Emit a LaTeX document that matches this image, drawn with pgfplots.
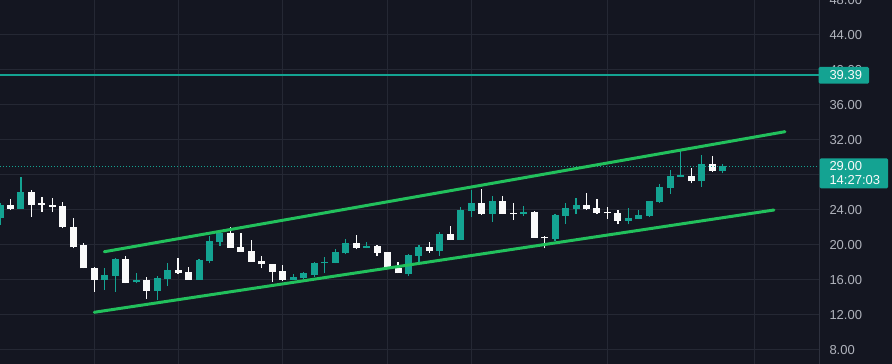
\documentclass[border=0pt]{standalone}
\usepackage{fontspec}
\setmainfont{Liberation Sans}
\usepackage{pgfplots}
\pgfplotsset{compat=1.18}
\usepackage{pgfplotstable}
\definecolor{bgc}{RGB}{20,22,33}
\definecolor{gridc}{RGB}{37,40,52}
\definecolor{sepc}{RGB}{46,49,62}
\definecolor{labc}{RGB}{176,179,188}
\definecolor{tealc}{RGB}{20,163,146}
\definecolor{greenc}{RGB}{34,192,92}
\definecolor{whitec}{RGB}{250,250,250}

% bullish (teal) candles: index, open, high, low, close
\pgfplotstableread{
i o h l c
0 23.05 24.76 22.29 24.57
2 24.11 27.81 24.11 26.06
10 16.00 17.33 14.86 16.57
11 16.46 18.48 14.67 18.40
13 15.73 16.84 15.62 16.00
15 14.78 16.46 13.71 16.27
16 16.11 17.90 15.31 17.14
19 16.00 18.40 16.00 18.29
20 18.17 21.03 17.90 20.50
21 20.38 21.71 19.89 21.41
28 16.00 16.69 16.00 16.38
29 16.19 16.95 16.11 16.76
30 16.57 18.10 16.38 17.98
31 17.90 18.67 16.76 18.10
32 17.98 19.50 17.90 19.24
33 19.05 20.65 18.93 20.27
35 19.70 20.38 19.62 19.92
39 16.69 18.93 16.50 18.86
40 18.78 20.00 18.10 19.81
42 19.35 21.52 18.78 21.26
44 20.57 24.30 20.57 24.00
45 23.89 26.29 23.16 24.84
47 23.54 25.60 22.67 25.03
50 23.54 24.46 23.35 23.81
53 20.65 23.54 20.46 23.43
54 23.35 24.76 22.40 24.27
55 24.08 25.41 23.54 24.57
60 22.78 24.19 22.36 23.09
61 22.97 24.00 22.97 23.43
62 23.31 25.03 23.24 25.03
63 24.95 26.97 24.84 26.67
64 26.55 28.57 25.83 27.89
65 27.81 30.78 27.73 28.04
67 27.35 30.29 26.67 29.26
69 28.50 29.26 28.19 29.00
}\bull

% bearish (white) candles: index, open, high, low, close
\pgfplotstableread{
i o h l c
1 24.57 25.22 24.00 24.11
3 26.06 26.29 23.24 24.57
4 24.76 25.52 23.81 24.57
5 24.57 25.33 23.81 24.38
6 24.46 24.95 21.90 22.02
7 22.02 23.05 19.62 19.73
8 20.00 20.19 17.33 17.33
9 17.33 17.52 14.67 16.00
12 18.40 18.74 15.62 15.70
14 16.00 16.38 13.83 14.78
17 17.14 18.55 16.69 16.76
18 16.91 17.52 16.00 16.00
22 21.41 22.02 19.70 19.70
23 19.81 21.41 19.24 19.24
24 19.35 20.57 18.10 18.10
25 18.17 18.74 17.33 17.79
26 17.83 17.83 15.81 16.95
27 17.07 17.71 15.92 16.00
34 20.19 21.14 19.50 19.70
36 19.89 20.00 18.78 19.12
37 19.24 19.24 17.26 17.26
38 17.41 18.10 16.76 16.76
41 19.73 20.38 19.12 19.31
43 21.26 22.17 20.57 20.57
46 24.84 26.36 23.43 23.54
48 25.03 25.60 23.54 23.54
49 23.70 24.76 22.86 23.54
51 23.81 23.89 20.84 20.84
52 20.95 21.03 19.62 20.76
56 24.57 25.90 24.00 24.08
57 24.19 25.26 23.54 23.70
58 23.81 24.30 23.01 23.62
59 23.62 24.00 22.36 22.78
66 27.89 28.84 27.05 27.31
68 29.26 30.17 28.38 28.50
}\bear

% horizontal level line and last-price line
\pgfplotstableread{
x lvl last
-0.004 39.39 29.00
78.229 39.39 29.00
}\levels

\begin{document}
\begin{tikzpicture}[x=1pt,y=1pt]
\useasboundingbox (0,0) rectangle (892,364);
\clip (0,0) rectangle (892,364);
\fill[bgc] (0,0) rectangle (892,364);
\begin{axis}[
  at={(0pt,0pt)}, anchor=south west,
  scale only axis, width=819.3pt, height=364pt,
  xmin=-0.004, xmax=78.229, ymin=6.4, ymax=48,
  clip mode=individual,
  axis line style={draw=none},
  xtick={9,17,27,37,45,58,72}, xticklabels={},
  ytick={8,12,16,20,24,28,32,36,40,44,48},
  yticklabels={8.00,12.00,16.00,20.00,24.00,{},32.00,36.00,40.00,44.00,48.00},
  xmajorgrids, ymajorgrids,
  major grid style={draw=gridc, line width=1pt},
  major tick length=0pt,
  yticklabel pos=right,
  yticklabel style={anchor=west, inner sep=0pt, xshift=10pt, text=labc,
    font=\fontsize{13}{14}\selectfont},
]
% wicks
\addplot[draw=none, no markers, forget plot, error bars/.cd, y dir=plus, y explicit, error mark=none,
  error bar style={line width=1.2pt, draw=tealc, solid}]
  table[x=i, y=l, y error expr=\thisrow{h}-\thisrow{l}] {\bull};
\addplot[draw=none, no markers, forget plot, error bars/.cd, y dir=plus, y explicit, error mark=none,
  error bar style={line width=1.2pt, draw=whitec, solid}]
  table[x=i, y=l, y error expr=\thisrow{h}-\thisrow{l}] {\bear};
% bodies
\addplot[draw=none, no markers, forget plot, error bars/.cd, y dir=plus, y explicit, error mark=none,
  error bar style={line width=7pt, draw=tealc, solid}]
  table[x=i, y expr={min(\thisrow{o},\thisrow{c})}, y error expr={max(abs(\thisrow{c}-\thisrow{o}),0.17)}] {\bull};
\addplot[draw=none, no markers, forget plot, error bars/.cd, y dir=plus, y explicit, error mark=none,
  error bar style={line width=7pt, draw=whitec, solid}]
  table[x=i, y expr={min(\thisrow{o},\thisrow{c})}, y error expr={max(abs(\thisrow{c}-\thisrow{o}),0.17)}] {\bear};
% horizontal level and last price
\addplot[color=tealc, solid, no markers, line width=2pt, forget plot] table[x=x, y=lvl] {\levels};
\addplot[color=tealc, no markers, line width=1pt, dash pattern=on 1pt off 2pt, forget plot] table[x=x, y=last] {\levels};
% channel lines
\addplot[color=greenc, solid, no markers, line width=3pt, line cap=round, forget plot] coordinates {(9.96,19.23) (74.95,32.95)};
\addplot[color=greenc, solid, no markers, line width=3pt, line cap=round, forget plot] coordinates {(9.00,12.31) (73.90,24.00)};
\coordinate (p39) at (axis cs:78.229,39.39);
\coordinate (p29) at (axis cs:78.229,29.00);
\end{axis}
\draw[sepc, line width=1pt] (819.3,0) -- (819.3,364);
\node[fill=tealc, anchor=west, inner xsep=0pt, inner ysep=0pt, minimum height=16.7pt,
  text width=50.7pt, align=left, text=whitec, font=\fontsize{13}{14}\selectfont,
  rounded corners=1.5pt, xshift=-1pt] at (p39) {\hspace*{11pt}39.39};
\node[fill=tealc, anchor=north west, inner xsep=0pt, inner ysep=3.4pt,
  text width=68.7pt, align=left, text=whitec, font=\fontsize{13}{14}\selectfont,
  rounded corners=1.5pt, yshift=8pt] at (p29) {\hspace*{10pt}29.00\\\hspace*{10pt}14:27:03};
\end{tikzpicture}
\end{document}
